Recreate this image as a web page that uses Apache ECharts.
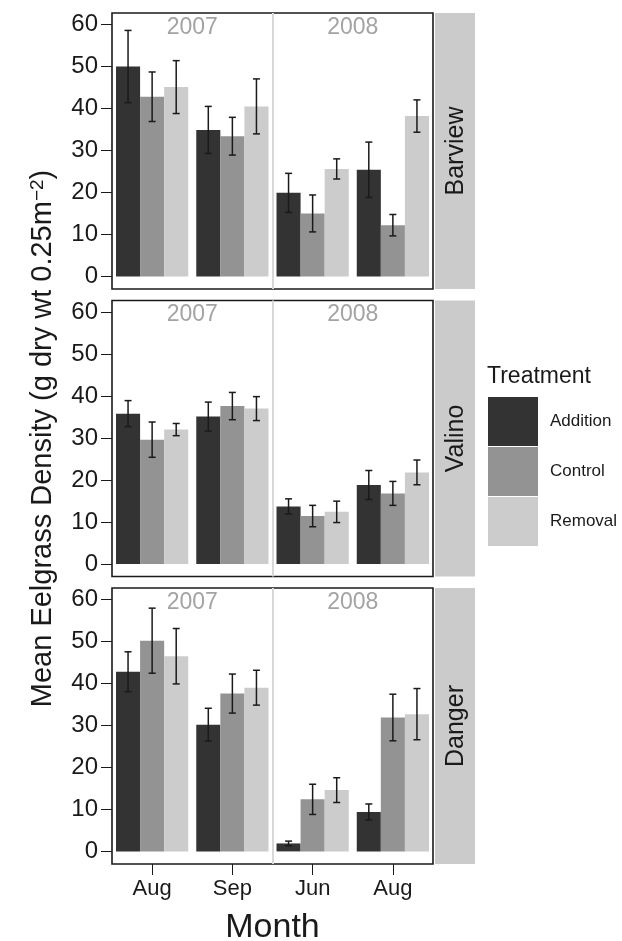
<!DOCTYPE html>
<html>
<head>
<meta charset="utf-8">
<script src="https://cdn.jsdelivr.net/npm/echarts@6/dist/echarts.min.js"></script>
<style>
  html, body { margin: 0; padding: 0; background: #fff; }
  #chart { width: 622px; height: 941px; }
</style>
</head>
<body>
<div id="chart"></div>
<script>
// categories
const months = ['Aug', 'Sep', 'Jun', 'Aug']
const years = ['2007', '2008']
const sites = ['Barview', 'Valino', 'Danger']
const treatments = ['Addition', 'Control', 'Removal']
const yTicks = [0, 10, 20, 30, 40, 50, 60]

// mean density, months in order Aug07 Sep07 Jun08 Aug08
const barviewAddition = [50.0, 34.9, 19.9, 25.4]
const barviewControl = [42.8, 33.4, 15.0, 12.2]
const barviewRemoval = [45.1, 40.5, 25.6, 38.2]
const valinoAddition = [35.8, 35.1, 13.7, 18.8]
const valinoControl = [29.6, 37.6, 11.4, 16.8]
const valinoRemoval = [32.0, 37.0, 12.4, 21.8]
const dangerAddition = [42.8, 30.2, 1.9, 9.4]
const dangerControl = [50.2, 37.6, 12.4, 31.9]
const dangerRemoval = [46.5, 39.0, 14.6, 32.7]

// standard errors (half length of the error bars)
const barviewAdditionSE = [8.6, 5.6, 4.65, 6.6]
const barviewControlSE = [5.9, 4.5, 4.4, 2.55]
const barviewRemovalSE = [6.3, 6.55, 2.4, 3.85]
const valinoAdditionSE = [3.1, 3.45, 1.8, 3.45]
const valinoControlSE = [4.2, 3.25, 2.55, 2.85]
const valinoRemovalSE = [1.45, 2.85, 2.55, 2.95]
const dangerAdditionSE = [4.75, 3.9, 0.55, 1.9]
const dangerControlSE = [7.75, 4.65, 3.6, 5.55]
const dangerRemovalSE = [6.6, 4.15, 2.95, 6.1]

const means = [
  [barviewAddition, barviewControl, barviewRemoval],
  [valinoAddition, valinoControl, valinoRemoval],
  [dangerAddition, dangerControl, dangerRemoval]
]
const errors = [
  [barviewAdditionSE, barviewControlSE, barviewRemovalSE],
  [valinoAdditionSE, valinoControlSE, valinoRemovalSE],
  [dangerAdditionSE, dangerControlSE, dangerRemovalSE]
]

const FONT = '"Liberation Sans", Arial, Helvetica, sans-serif'
const INK = '#1a1a1a'
const fills = ['#333333', '#939393', '#cccccc']
const panelTop = [13, 300.5, 588]
const panelLeft = 112
const panelW = 321
const panelH = 276

// error bar: offset inside the dodged group like the bars
const errRender = (ti) => (params, api) => {
  const x = api.value(0)
  const lo = api.coord([x, api.value(1)])
  const hi = api.coord([x, api.value(2)])
  const bw = api.size([1, 0])[0] * 0.9 / 3
  const cx = lo[0] + (ti - 1) * bw
  const cap = 3.5
  const st = { stroke: INK, lineWidth: 1.5 }
  return {
    type: 'group',
    children: [
      { type: 'line', shape: { x1: cx, y1: hi[1], x2: cx, y2: lo[1] }, style: st },
      { type: 'line', shape: { x1: cx - cap, y1: hi[1], x2: cx + cap, y2: hi[1] }, style: st },
      { type: 'line', shape: { x1: cx - cap, y1: lo[1], x2: cx + cap, y2: lo[1] }, style: st }
    ]
  }
}

const grids = []
const xAxes = []
const yAxes = []
const series = []
const graphics = []

sites.forEach((site, p) => {
  grids.push({
    left: panelLeft, top: panelTop[p], width: panelW, height: panelH,
    outerBoundsMode: 'none', containLabel: false,
    show: true, backgroundColor: '#fff', borderColor: INK, borderWidth: 1.6
  })
  const last = p === sites.length - 1
  xAxes.push({
    type: 'category', gridIndex: p, data: months, position: 'bottom',
    axisLine: { show: false, onZero: false },
    axisTick: { show: last, length: 11, alignWithLabel: true, lineStyle: { color: INK, width: 1 } },
    axisLabel: { show: last, margin: 14, fontSize: 22, color: INK, fontFamily: FONT },
    splitLine: { show: false },
    name: last ? 'Month' : '',
    nameLocation: 'middle', nameGap: 47,
    nameTextStyle: { fontSize: 34, color: INK, fontFamily: FONT }
  })
  yAxes.push({
    type: 'value', gridIndex: p, min: -3, max: 62.75,
    axisLine: { show: false },
    axisTick: { show: true, length: 11, customValues: yTicks, lineStyle: { color: INK, width: 1 } },
    axisLabel: { customValues: yTicks, margin: 14, fontSize: 24, color: INK, fontFamily: FONT },
    splitLine: { show: false },
    name: p === 1 ? '{a|Mean Eelgrass Density (g dry wt 0.25m}{s|\u22122}{a|)}' : '',
    nameLocation: 'middle', nameGap: 55, nameRotate: 90,
    nameTextStyle: {
      rich: {
        a: { fontSize: 29, color: INK, fontFamily: FONT },
        s: { fontSize: 19, color: INK, fontFamily: FONT, verticalAlign: 'top' }
      }
    }
  })
  treatments.forEach((t, ti) => {
    series.push({
      name: t, type: 'bar', xAxisIndex: p, yAxisIndex: p,
      data: means[p][ti],
      barGap: '0%', barCategoryGap: '10%',
      itemStyle: { color: fills[ti] },
      silent: true
    })
    series.push({
      type: 'custom', xAxisIndex: p, yAxisIndex: p, z: 5, silent: true,
      renderItem: errRender(ti),
      encode: { x: 0, y: [1, 2] },
      data: means[p][ti].map((m, i) => [i, m - errors[p][ti][i], m + errors[p][ti][i]])
    })
  })
  // facet strip on the right
  graphics.push({
    type: 'rect', silent: true,
    shape: { x: 435, y: panelTop[p], width: 40, height: panelH },
    style: { fill: '#cbcbcb' }
  })
  graphics.push({
    type: 'text', silent: true,
    x: 456, y: panelTop[p] + panelH / 2, rotation: Math.PI / 2,
    style: { text: site, fontSize: 25, fontFamily: FONT, fill: INK, align: 'center', verticalAlign: 'middle' }
  })
})

// year headers + divider between the years
sites.forEach((site, p) => {
  xAxes.push({
    type: 'category', gridIndex: p, data: years, position: 'top',
    axisLine: { show: false, onZero: false },
    axisTick: { show: false },
    axisLabel: { inside: true, margin: 3, fontSize: 23, color: '#a3a3a3', fontFamily: FONT },
    splitLine: { show: true, showMinLine: false, showMaxLine: false, lineStyle: { color: '#d8d8d8', width: 2 } }
  })
})

const chart = echarts.init(document.getElementById('chart'))
chart.setOption({
  animation: false,
  backgroundColor: '#fff',
  textStyle: { fontFamily: FONT },
  title: {
    text: 'Treatment', left: 487, top: 365, padding: 0,
    textStyle: { fontSize: 23, fontWeight: 'normal', color: INK, fontFamily: FONT }
  },
  legend: {
    data: treatments, orient: 'vertical', left: 488, top: 397, padding: 0,
    itemWidth: 50, itemHeight: 49, itemGap: 1, icon: 'rect', selectedMode: false,
    textStyle: { fontSize: 17, color: INK, fontFamily: FONT, padding: [0, 0, 0, 7] }
  },
  grid: grids,
  xAxis: xAxes,
  yAxis: yAxes,
  series,
  graphic: graphics
})
</script>
</body>
</html>
